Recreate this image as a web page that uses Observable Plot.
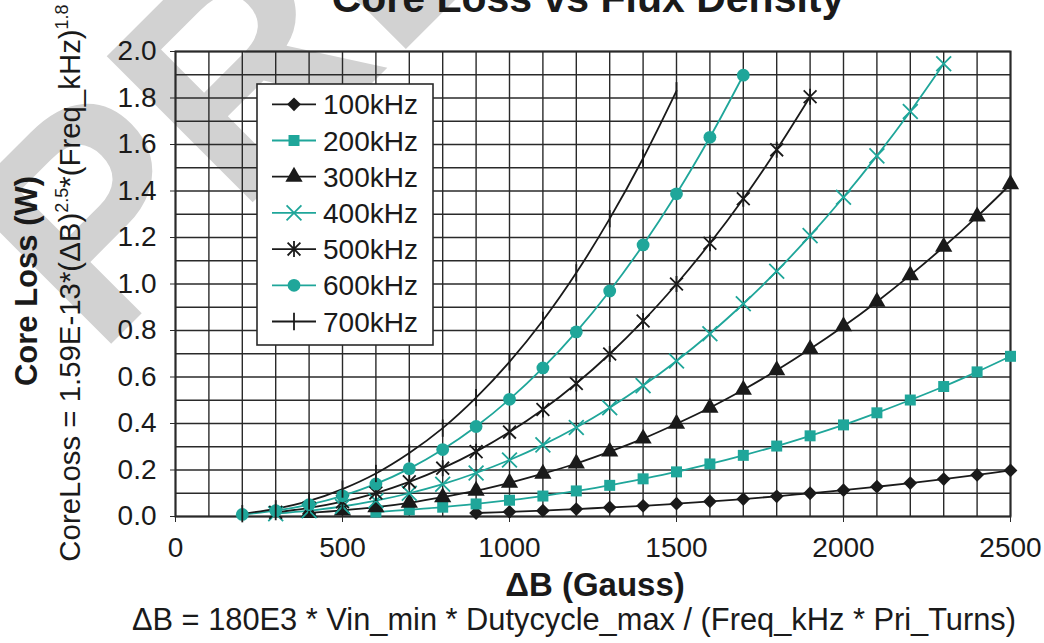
<!DOCTYPE html>
<html>
<head>
<meta charset="utf-8">
<script src="https://cdn.jsdelivr.net/npm/d3@7"></script>
<script src="https://cdn.jsdelivr.net/npm/@observablehq/plot@0.6"></script>
<style>
  html, body { margin: 0; padding: 0; background: #fff; overflow: hidden; }
  #chart { width: 1044px; height: 643px; }
</style>
</head>
<body>
<div id="chart"></div>
<script>
// ---------- data ----------
const deltaB = [200,300,400,500,600,700,800,900,1000,1100,1200,1300,1400,1500,1600,1700,1800,1900,2000,2100,2200,2300,2400,2500];
const seriesNames = ["100kHz","200kHz","300kHz","400kHz","500kHz","600kHz","700kHz"];
const loss100kHz = [null,null,null,null,null,null,null,0.015,0.020,0.025,0.032,0.039,0.046,0.055,0.065,0.075,0.087,0.100,0.113,0.128,0.144,0.161,0.179,0.198];
const loss200kHz = [null,null,null,null,0.019,0.029,0.040,0.054,0.070,0.088,0.110,0.134,0.162,0.192,0.226,0.263,0.303,0.347,0.394,0.446,0.501,0.559,0.622,0.689];
const loss300kHz = [null,null,0.015,0.026,0.040,0.059,0.083,0.111,0.145,0.184,0.228,0.279,0.335,0.399,0.468,0.545,0.629,0.720,0.818,0.924,1.038,1.160,1.290,1.429];
const loss400kHz = [null,0.012,0.025,0.043,0.068,0.100,0.139,0.187,0.243,0.308,0.383,0.468,0.563,0.669,0.786,0.915,1.055,1.208,1.373,1.551,1.742,1.947,null,null];
const loss500kHz = [null,0.018,0.037,0.064,0.101,0.149,0.208,0.279,0.363,0.460,0.572,0.699,0.841,1.000,1.175,1.367,1.577,1.805,null,null,null,null,null,null];
const loss600kHz = [0.009,0.025,0.051,0.089,0.140,0.206,0.288,0.387,0.504,0.639,0.794,0.970,1.168,1.388,1.631,1.898,null,null,null,null,null,null,null,null];
const loss700kHz = [0.012,0.033,0.067,0.118,0.185,0.273,0.380,0.511,0.665,0.843,1.048,1.281,1.541,1.831,null,null,null,null,null,null,null,null,null,null];
const seriesValues = [loss100kHz, loss200kHz, loss300kHz, loss400kHz, loss500kHz, loss600kHz, loss700kHz];

const xTicks = [0,500,1000,1500,2000,2500];
const yTicks = [0,0.2,0.4,0.6,0.8,1.0,1.2,1.4,1.6,1.8,2.0];
const xGridValues = [0,100,200,300,400,500,600,700,800,900,1000,1100,1200,1300,1400,1500,1600,1700,1800,1900,2000,2100,2200,2300,2400,2500];
const yGridValues = [0,0.1,0.2,0.3,0.4,0.5,0.6,0.7,0.8,0.9,1.0,1.1,1.2,1.3,1.4,1.5,1.6,1.7,1.8,1.9,2.0];

const titleText = "Core Loss vs Flux Density";
const xLabelText = "\u0394B (Gauss)";
const captionText = "\u0394B = 180E3 * Vin_min * Dutycycle_max / (Freq_kHz * Pri_Turns)";
const yLabelText = "Core Loss (W)";
const watermarkText = "PRELIMINARY";

// ---------- styles ----------
const teal = "#1fa69a";
const dark = "#1a1a1a";
const FONT = "'Liberation Sans', Arial, Helvetica, sans-serif";

// custom marker shapes
const starSymbol = {
  draw(ctx, size) {
    const r = Math.sqrt(size / Math.PI) * 1.25;
    const a = r * 0.8;
    ctx.moveTo(0, -r); ctx.lineTo(0, r);
    ctx.moveTo(-a, -a); ctx.lineTo(a, a);
    ctx.moveTo(-a, a); ctx.lineTo(a, -a);
  }
};
const barSymbol = {
  draw(ctx, size) {
    const r = Math.sqrt(size / Math.PI) * 1.35;
    ctx.moveTo(0, -r); ctx.lineTo(0, r);
  }
};

const seriesStyle = [
  {color: dark, symbol: "diamond2", filled: true,  r: 6.2},
  {color: teal, symbol: "square",   filled: true,  r: 6.2},
  {color: dark, symbol: "triangle", filled: true,  r: 6.4},
  {color: teal, symbol: "times",    filled: false, r: 6.8},
  {color: dark, symbol: starSymbol, filled: false, r: 6.4},
  {color: teal, symbol: "circle",   filled: true,  r: 6.4},
  {color: dark, symbol: barSymbol,  filled: false, r: 6.4}
];

// tidy table
const table = [];
seriesNames.forEach((name, i) => {
  seriesValues[i].forEach((v, j) => {
    if (v != null) table.push({series: name, B: deltaB[j], loss: v});
  });
});

const seriesMarks = [];
seriesNames.forEach((name, i) => {
  const s = seriesStyle[i];
  const data = table.filter(d => d.series === name);
  seriesMarks.push(Plot.line(data, {x: "B", y: "loss", stroke: s.color, strokeWidth: 1.8, curve: "catmull-rom"}));
});
seriesNames.forEach((name, i) => {
  const s = seriesStyle[i];
  const data = table.filter(d => d.series === name);
  seriesMarks.push(Plot.dot(data, {
    x: "B", y: "loss", symbol: s.symbol, r: s.r,
    fill: s.filled ? s.color : "none",
    stroke: s.filled ? "none" : s.color,
    strokeWidth: s.filled ? 0 : 1.8
  }));
});

const chart = Plot.plot({
  width: 1044,
  height: 643,
  marginTop: 51,
  marginBottom: 127,
  marginLeft: 175,
  marginRight: 34,
  style: {fontFamily: FONT, fontSize: "28px", color: dark, background: "white", overflow: "visible"},
  x: {domain: [0, 2500], label: null},
  y: {domain: [0, 2], label: null},
  marks: [
    Plot.gridX(xGridValues, {stroke: "#2a2a2a", strokeOpacity: 1, strokeWidth: 1.4}),
    Plot.gridY(yGridValues, {stroke: "#2a2a2a", strokeOpacity: 1, strokeWidth: 1.4}),
    Plot.frame({stroke: "#2a2a2a", strokeWidth: 2}),
    Plot.axisX(xTicks, {tickSize: 6, tickPadding: 15, tickFormat: d => String(d), label: null, stroke: "#2a2a2a", fontSize: 28}),
    Plot.axisY(yTicks, {tickSize: 5, tickPadding: 14, tickFormat: d => d.toFixed(1), label: null, stroke: "#2a2a2a", fontSize: 28}),
    ...seriesMarks
  ]
});
document.getElementById("chart").appendChild(chart);

// ---------- annotations ----------
const svg = d3.select(chart);

// watermark behind everything
const firstG = chart.querySelector("g");
const wm = document.createElementNS("http://www.w3.org/2000/svg", "text");
chart.insertBefore(wm, firstG);
d3.select(wm)
  .attr("transform", "translate(97,358) rotate(-45)")
  .attr("text-anchor", "start")
  .attr("font-family", FONT).attr("font-weight", "bold").attr("font-size", 300)
  .attr("fill", "#d2d2d2").text(watermarkText);

// title
svg.append("text").attr("x", 588).attr("y", 12).attr("text-anchor", "middle")
  .attr("font-family", FONT).attr("font-weight", "bold").attr("font-size", 41)
  .attr("fill", dark).text(titleText);

// x axis label and caption
svg.append("text").attr("x", 595).attr("y", 596).attr("text-anchor", "middle")
  .attr("font-family", FONT).attr("font-weight", "bold").attr("font-size", 33)
  .attr("fill", dark).text(xLabelText);
svg.append("text").attr("x", 574).attr("y", 630).attr("text-anchor", "middle")
  .attr("font-family", FONT).attr("font-size", 30.8)
  .attr("fill", dark).text(captionText);

// y axis label
svg.append("text").attr("transform", "translate(37,281) rotate(-90)").attr("text-anchor", "middle")
  .attr("font-family", FONT).attr("font-weight", "bold").attr("font-size", 31)
  .attr("fill", dark).text(yLabelText);

// formula label with superscripts
const f = svg.append("text").attr("transform", "translate(80,283) rotate(-90)").attr("text-anchor", "middle")
  .attr("font-family", FONT).attr("font-size", 29.4).attr("fill", dark);
f.append("tspan").text("CoreLoss = 1.59E-13*(\u0394B)");
f.append("tspan").attr("font-size", 18).attr("dy", -12).text("2.5");
f.append("tspan").attr("dy", 12).text("*(Freq_kHz)");
f.append("tspan").attr("font-size", 18).attr("dy", -12).text("1.8");

// legend
const lg = svg.append("g");
lg.append("rect").attr("x", 257).attr("y", 84).attr("width", 176).attr("height", 261)
  .attr("fill", "white").attr("stroke", "#2a2a2a").attr("stroke-width", 1.6);
seriesNames.forEach((name, i) => {
  const s = seriesStyle[i];
  const cy = 104.3 + i * 36.2;
  lg.append("line").attr("x1", 272).attr("x2", 316).attr("y1", cy).attr("y2", cy)
    .attr("stroke", s.color).attr("stroke-width", 1.8);
  const symType = typeof s.symbol === "string"
    ? {diamond2: d3.symbolDiamond2, square: d3.symbolSquare, triangle: d3.symbolTriangle, times: d3.symbolTimes, circle: d3.symbolCircle}[s.symbol]
    : s.symbol;
  lg.append("path").attr("transform", `translate(294,${cy})`)
    .attr("d", d3.symbol(symType, Math.PI * s.r * s.r)())
    .attr("fill", s.filled ? s.color : "none")
    .attr("stroke", s.filled ? "none" : s.color)
    .attr("stroke-width", 1.8);
  lg.append("text").attr("x", 323).attr("y", cy).attr("dy", "0.36em").attr("text-anchor", "start")
    .attr("font-family", FONT).attr("font-size", 28).attr("fill", dark).text(name);
});
</script>
</body>
</html>
